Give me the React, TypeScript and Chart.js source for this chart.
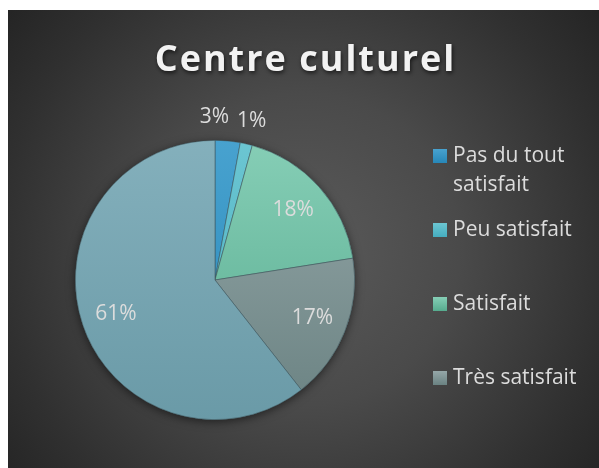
import React, { useEffect, useRef } from 'react';
import { Chart, registerables } from 'chart.js';

Chart.register(...registerables);

// ---- data ----
const chartTitle = 'Centre culturel';
const categories = ['Pas du tout satisfait', 'Peu satisfait', 'Satisfait', 'Très satisfait', 'Sans avis'];
const shares = [2.9, 1.4, 18.2, 16.9, 60.6];
const topColors = ['#48a2cf', '#6cc6d2', '#86ceb6', '#95a7a8', '#84b0bc'];
const bottomColors = ['#2787b8', '#45adbf', '#56ab8e', '#6a8282', '#6a9aa7'];
// the legend box of the original only had room for the first four entries
const legendCount = 4;

const FONT = '"Open Sans", "Noto Sans", sans-serif';

function sliceFill(ctx: any, i: number) {
  const chart = ctx.chart;
  const area = chart.chartArea;
  if (!area) return bottomColors[i];
  const g = chart.ctx.createLinearGradient(0, area.top, 0, area.bottom);
  g.addColorStop(0, topColors[i]);
  g.addColorStop(1, bottomColors[i]);
  return g;
}

function wrapText(ctx: CanvasRenderingContext2D, text: string, maxW: number): string[] {
  const words = text.split(' ');
  const lines: string[] = [];
  let cur = '';
  for (const w of words) {
    const t = cur ? cur + ' ' + w : w;
    if (ctx.measureText(t).width > maxW && cur) {
      lines.push(cur);
      cur = w;
    } else cur = t;
  }
  if (cur) lines.push(cur);
  return lines;
}

const decorPlugin = {
  id: 'decor',
  beforeDraw(chart: any) {
    const { ctx, width, height } = chart;
    ctx.save();
    const cx = width / 2;
    const cy = height / 2 + 10;
    const g = ctx.createRadialGradient(cx, cy, 0, cx, cy, 390);
    g.addColorStop(0, '#5a5a5a');
    g.addColorStop(0.4, '#4a4a4a');
    g.addColorStop(0.78, '#303030');
    g.addColorStop(1, '#232323');
    ctx.fillStyle = g;
    ctx.fillRect(0, 0, width, height);

    // title
    ctx.font = `bold 36px ${FONT}`;
    (ctx as any).letterSpacing = '2px';
    ctx.textAlign = 'center';
    ctx.textBaseline = 'alphabetic';
    ctx.shadowColor = 'rgba(0,0,0,0.65)';
    ctx.shadowBlur = 4;
    ctx.shadowOffsetX = 1;
    ctx.shadowOffsetY = 2;
    ctx.fillStyle = '#f2f2f2';
    ctx.fillText(chartTitle, width / 2 + 2, 61);
    ctx.restore();
  },
  beforeDatasetsDraw(chart: any) {
    const meta = chart.getDatasetMeta(0);
    const arc = meta.data[0];
    if (!arc) return;
    const { ctx } = chart;
    ctx.save();
    ctx.shadowColor = 'rgba(0,0,0,0.55)';
    ctx.shadowBlur = 10;
    ctx.shadowOffsetY = 2;
    ctx.fillStyle = '#6a9aa7';
    ctx.beginPath();
    ctx.arc(arc.x, arc.y, arc.outerRadius, 0, Math.PI * 2);
    ctx.fill();
    ctx.restore();
  },
  afterDatasetsDraw(chart: any) {
    const { ctx } = chart;
    const meta = chart.getDatasetMeta(0);
    const data: number[] = chart.data.datasets[0].data;
    const total = data.reduce((a, b) => a + b, 0);
    ctx.save();
    ctx.font = `21px ${FONT}`;
    ctx.textAlign = 'center';
    ctx.textBaseline = 'middle';
    ctx.fillStyle = '#dcdcdc';
    const labels: { x: number; y: number; text: string; w: number; outside: boolean }[] = [];
    meta.data.forEach((arc: any, i: number) => {
      const pct = (data[i] / total) * 100;
      const text = Math.round(pct) + '%';
      const mid = (arc.startAngle + arc.endAngle) / 2;
      const outside = pct < 5;
      const r = outside ? arc.outerRadius + 24 : arc.outerRadius * 0.75;
      labels.push({
        x: arc.x + Math.cos(mid) * r,
        y: arc.y + Math.sin(mid) * r,
        text,
        w: ctx.measureText(text).width,
        outside,
      });
    });
    // resolve overlap between neighbouring outside labels
    for (let i = labels.length - 2; i >= 0; i--) {
      const a = labels[i];
      const b = labels[i + 1];
      if (a.outside && b.outside) {
        const need = (a.w + b.w) / 2 + 8;
        if (b.x - a.x < need && Math.abs(b.y - a.y) < 20) a.x = b.x - need;
      }
    }
    labels.forEach((l) => ctx.fillText(l.text, l.x, l.y));
    ctx.restore();
  },
  afterDraw(chart: any) {
    const { ctx } = chart;
    const x0 = 425;
    const y0 = 146;
    const step = 74;
    const sq = 14;
    const lineH = 29;
    ctx.save();
    ctx.font = `21px ${FONT}`;
    ctx.textAlign = 'left';
    ctx.textBaseline = 'middle';
    const names: string[] = chart.data.labels;
    names.slice(0, legendCount).forEach((name, i) => {
      const y = y0 + i * step;
      const g = ctx.createLinearGradient(0, y - sq / 2, 0, y + sq / 2);
      g.addColorStop(0, topColors[i]);
      g.addColorStop(1, bottomColors[i]);
      ctx.fillStyle = g;
      ctx.fillRect(x0, y - sq / 2, sq, sq);
      ctx.fillStyle = '#dcdcdc';
      const lines = wrapText(ctx, name, 140);
      lines.forEach((ln, j) => ctx.fillText(ln, x0 + 20, y + j * lineH));
    });
    ctx.restore();
  },
};

export default function App() {
  const ref = useRef<HTMLCanvasElement>(null);
  useEffect(() => {
    if (!ref.current) return;
    const chart = new Chart(ref.current, {
      type: 'pie',
      data: {
        labels: categories,
        datasets: [
          {
            data: shares,
            backgroundColor: (c: any) => sliceFill(c, c.dataIndex),
            borderColor: 'rgba(60,80,85,0.7)',
            borderWidth: 0.75,
          },
        ],
      },
      options: {
        animation: false,
        responsive: false,
        maintainAspectRatio: false,
        layout: { padding: { left: 67, right: 244, top: 130, bottom: 48 } },
        plugins: {
          legend: { display: false },
          title: { display: false },
          tooltip: { enabled: false },
        },
      },
      plugins: [decorPlugin],
    } as any);
    return () => chart.destroy();
  }, []);
  return (
    <div style={{ position: 'absolute', left: 8, top: 10, width: 591, height: 458 }}>
      <canvas ref={ref} width={591} height={458} style={{ display: 'block' }} />
    </div>
  );
}
